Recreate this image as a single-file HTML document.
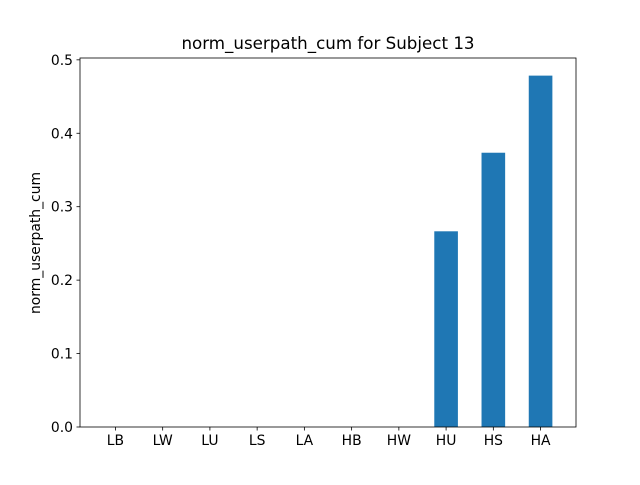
<!DOCTYPE html>
<html><head><meta charset="utf-8"><style>body{margin:0;background:#fff}svg text{font-family:"DejaVu Sans","Liberation Sans",sans-serif}</style></head>
<body>
<svg id="chart" width="640" height="480" xmlns="http://www.w3.org/2000/svg">
<rect width="640" height="480" fill="#fff"/>
<text x="328" y="49" font-size="16.7" text-anchor="middle">norm_userpath_cum for Subject 13</text>
<text transform="translate(40,243) rotate(-90)" font-size="13.9" text-anchor="middle">norm_userpath_cum</text>
<g id="marks"></g>
<rect x="80" y="58" width="496" height="369" fill="none" stroke="#000" stroke-width="0.8"/>
</svg>
<script>
const categories = ["LB","LW","LU","LS","LA","HB","HW","HU","HS","HA"];
const values = [0,0,0,0,0,0,0,0.2665,0.3735,0.4785];
const yTicks = [0,0.1,0.2,0.3,0.4,0.5];
const yTickLabels = ["0.0","0.1","0.2","0.3","0.4","0.5"];
const L=80,R=576,T=58,B=427, yMax=0.5025, xMin=-0.75, xMax=categories.length-0.25;
const x=v=>L+(v-xMin)/(xMax-xMin)*(R-L);
const y=v=>B-v/yMax*(B-T);
const NS="http://www.w3.org/2000/svg", g=document.getElementById('marks');
function mk(t,a){const e=document.createElementNS(NS,t);for(const k in a)e.setAttribute(k,a[k]);g.appendChild(e);return e;}
values.forEach((v,i)=>{
  const r=mk('rect',{x:x(i-0.25),y:y(v),width:x(i+0.25)-x(i-0.25),height:B-y(v),fill:'#1f77b4'});
  
  
});
categories.forEach((c,i)=>{
  const tk=mk('line',{x1:x(i),x2:x(i),y1:B,y2:B+3.5,stroke:'#000','stroke-width':0.8});
  
  
  const t=mk('text',{x:x(i),y:B+18,'font-size':13.9,'text-anchor':'middle'});
  t.textContent=c;
  
  
});
yTicks.forEach((v,i)=>{
  const tk=mk('line',{x1:L-3.5,x2:L,y1:y(v),y2:y(v),stroke:'#000','stroke-width':0.8});
  
  
  const t=mk('text',{x:L-7,y:y(v)+5,'font-size':13.9,'text-anchor':'end'});
  t.textContent=yTickLabels[i];
  
  
});
</script>
</body></html>
